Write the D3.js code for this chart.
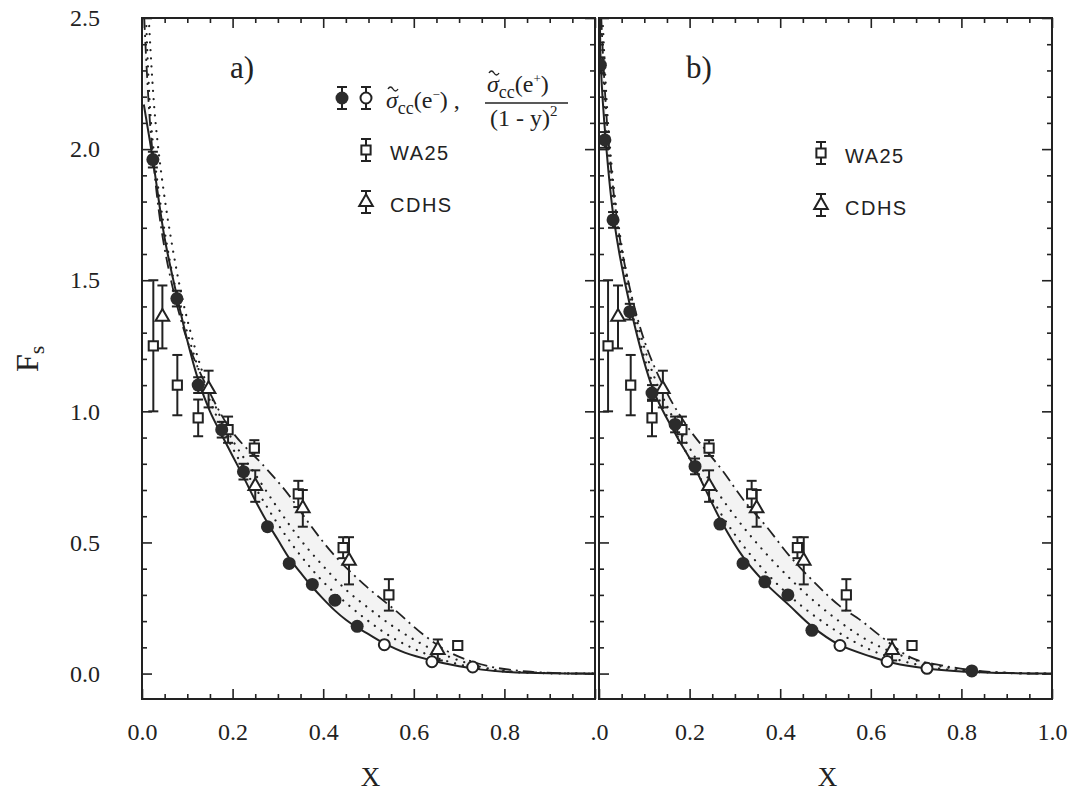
<!DOCTYPE html>
<html lang="en">
<head>
  <meta charset="UTF-8">
  <title>Fs vs x</title>
  <script src="https://cdn.jsdelivr.net/npm/d3@7"></script>
</head>
<body>
<style>
  * {
    padding: 0;
    margin: 0;
  }
  body { background: #fff; }
  svg text { font-family: "Liberation Serif", "DejaVu Serif", serif; fill: #222; }
  .leg { font-family: "Liberation Sans", "DejaVu Sans", sans-serif !important; letter-spacing: 1.5px; }
</style>

<div id="app"></div>

<script>
  // ticks
  const xMajor = [0, 0.2, 0.4, 0.6, 0.8, 1.0];
  const xMinor = [0.05, 0.1, 0.15, 0.25, 0.3, 0.35, 0.45, 0.5, 0.55, 0.65, 0.7, 0.75, 0.85, 0.9, 0.95];
  const xLabelsA = ["0.0", "0.2", "0.4", "0.6", "0.8", ""];
  const xLabelsB = [".0", "0.2", "0.4", "0.6", "0.8", "1.0"];
  const yMajor = [0, 0.5, 1.0, 1.5, 2.0, 2.5];
  const yMinor = [0.1, 0.2, 0.3, 0.4, 0.6, 0.7, 0.8, 0.9, 1.1, 1.2, 1.3, 1.4, 1.6, 1.7, 1.8, 1.9, 2.1, 2.2, 2.3, 2.4];
  const yLabels = ["0.0", "0.5", "1.0", "1.5", "2.0", "2.5"];

  // panel a: data points
  const a_em_x = [0.024, 0.077, 0.124, 0.176, 0.224, 0.277, 0.325, 0.376, 0.426, 0.475];
  const a_em_y = [1.96, 1.43, 1.10, 0.93, 0.77, 0.56, 0.42, 0.34, 0.28, 0.18];
  const a_em_e = [0.03, 0.03, 0.03, 0.03, 0.03, 0.025, 0.025, 0.02, 0.02, 0.02];
  const a_ep_x = [0.535, 0.64, 0.73];
  const a_ep_y = [0.11, 0.045, 0.025];
  const a_ep_e = [0.02, 0.02, 0.015];
  const a_wa_x = [0.025, 0.078, 0.124, 0.19, 0.248, 0.345, 0.444, 0.545, 0.697];
  const a_wa_y = [1.25, 1.10, 0.975, 0.93, 0.86, 0.685, 0.48, 0.30, 0.107];
  const a_wa_e = [0.25, 0.115, 0.07, 0.05, 0.03, 0.05, 0.04, 0.06, 0.015];
  const a_cd_x = [0.045, 0.147, 0.25, 0.355, 0.457, 0.653];
  const a_cd_y = [1.36, 1.085, 0.715, 0.63, 0.43, 0.09];
  const a_cd_e = [0.12, 0.07, 0.06, 0.07, 0.09, 0.04];

  // panel a: curves
  const a_solid_x = [0.004, 0.024, 0.05, 0.077, 0.1, 0.124, 0.15, 0.176, 0.2, 0.224, 0.25, 0.277, 0.3, 0.325, 0.35, 0.376, 0.4, 0.426, 0.45, 0.475, 0.5, 0.535, 0.58, 0.64, 0.7, 0.75, 0.8, 0.9, 1.0];
  const a_solid_y = [2.17, 1.96, 1.66, 1.44, 1.27, 1.12, 1.0, 0.91, 0.83, 0.75, 0.66, 0.575, 0.51, 0.44, 0.385, 0.33, 0.285, 0.24, 0.205, 0.175, 0.15, 0.115, 0.08, 0.05, 0.028, 0.015, 0.007, 0.001, 0];
  const a_dotU_x = [0.015, 0.03, 0.06, 0.1, 0.15, 0.2, 0.25, 0.3, 0.35, 0.4, 0.45, 0.5, 0.55, 0.6, 0.65, 0.7, 0.75, 0.8, 0.9, 1.0];
  const a_dotU_y = [2.5, 2.1, 1.7, 1.35, 1.07, 0.89, 0.76, 0.63, 0.51, 0.41, 0.32, 0.25, 0.185, 0.13, 0.085, 0.05, 0.025, 0.01, 0.002, 0];
  const a_dotL_x = [0.009, 0.02, 0.04, 0.07, 0.1, 0.15, 0.2, 0.25, 0.3, 0.35, 0.4, 0.45, 0.5, 0.55, 0.6, 0.65, 0.7, 0.75, 0.8, 0.9, 1.0];
  const a_dotL_y = [2.5, 2.1, 1.8, 1.5, 1.3, 1.04, 0.86, 0.71, 0.57, 0.45, 0.35, 0.27, 0.2, 0.14, 0.095, 0.06, 0.035, 0.018, 0.008, 0.001, 0];
  const a_dd_x = [0.005, 0.02, 0.05, 0.1, 0.15, 0.2, 0.27, 0.32, 0.37, 0.42, 0.49, 0.56, 0.62, 0.68, 0.76, 0.85, 0.95, 1.0];
  const a_dd_y = [2.5, 2.05, 1.62, 1.27, 1.07, 0.92, 0.79, 0.69, 0.57, 0.46, 0.34, 0.24, 0.15, 0.08, 0.03, 0.008, 0, 0];

  // panel b: data points
  const b_em_x = [0.003, 0.013, 0.031, 0.068, 0.117, 0.168, 0.212, 0.267, 0.318, 0.366, 0.417, 0.47, 0.823];
  const b_em_y = [2.32, 2.035, 1.73, 1.38, 1.07, 0.95, 0.79, 0.57, 0.42, 0.35, 0.30, 0.165, 0.01];
  const b_em_e = [0.03, 0.03, 0.03, 0.03, 0.03, 0.03, 0.03, 0.025, 0.025, 0.02, 0.02, 0.02, 0.01];
  const b_ep_x = [0.532, 0.636, 0.724];
  const b_ep_y = [0.107, 0.046, 0.02];
  const b_ep_e = [0.02, 0.02, 0.015];
  const b_wa_x = [0.02, 0.07, 0.117, 0.183, 0.243, 0.337, 0.438, 0.546, 0.691];
  const b_wa_y = [1.25, 1.10, 0.975, 0.93, 0.86, 0.685, 0.48, 0.30, 0.107];
  const b_wa_e = [0.25, 0.115, 0.07, 0.05, 0.03, 0.05, 0.04, 0.06, 0.015];
  const b_cd_x = [0.042, 0.141, 0.243, 0.348, 0.452, 0.647];
  const b_cd_y = [1.36, 1.085, 0.715, 0.63, 0.43, 0.09];
  const b_cd_e = [0.12, 0.07, 0.06, 0.07, 0.09, 0.04];

  // panel b: curves
  const b_solid_x = [0.002, 0.004, 0.015, 0.033, 0.07, 0.12, 0.17, 0.21, 0.27, 0.32, 0.37, 0.42, 0.47, 0.53, 0.6, 0.65, 0.72, 0.8, 0.9, 1.0];
  const b_solid_y = [2.5, 2.32, 2.03, 1.73, 1.39, 1.08, 0.91, 0.79, 0.58, 0.44, 0.34, 0.26, 0.18, 0.11, 0.065, 0.04, 0.02, 0.008, 0.002, 0];
  const b_dotU_x = [0.008, 0.02, 0.04, 0.07, 0.12, 0.2, 0.3, 0.4, 0.5, 0.6, 0.7, 0.8, 0.9, 1.0];
  const b_dotU_y = [2.5, 2.1, 1.75, 1.45, 1.14, 0.86, 0.6, 0.4, 0.24, 0.12, 0.05, 0.015, 0.003, 0];
  const b_dotL_x = [0.005, 0.015, 0.035, 0.07, 0.12, 0.2, 0.3, 0.4, 0.5, 0.6, 0.7, 0.8, 0.9, 1.0];
  const b_dotL_y = [2.5, 2.1, 1.75, 1.42, 1.1, 0.82, 0.53, 0.33, 0.19, 0.09, 0.035, 0.01, 0.002, 0];
  const b_dd_x = [0.005, 0.02, 0.05, 0.1, 0.15, 0.2, 0.27, 0.32, 0.37, 0.42, 0.48, 0.53, 0.58, 0.62, 0.69, 0.76, 0.85, 0.95, 1.0];
  const b_dd_y = [2.5, 2.05, 1.62, 1.27, 1.07, 0.93, 0.78, 0.66, 0.56, 0.45, 0.34, 0.26, 0.2, 0.145, 0.06, 0.03, 0.008, 0, 0];

  const W = 1081, H = 794;
  const yTop = 18, yBot = 699;
  const ink = "#222";

  const svg = d3.select("#app").append("svg").attr("width", W).attr("height", H);

  const y = d3.scaleLinear().domain([-0.097, 2.5]).range([yBot, yTop]);
  const xA = d3.scaleLinear().domain([0, 1]).range([142, 595]);
  const xB = d3.scaleLinear().domain([0, 1]).range([599, 1052]);

  function pts(xs, ys, es) {
    return xs.map((v, i) => ({x: v, y: ys[i], e: es ? es[i] : 0}));
  }

  function errBar(g, cx, top, bot) {
    g.append("line").attr("x1", cx).attr("x2", cx).attr("y1", top).attr("y2", bot)
      .attr("stroke", ink).attr("stroke-width", 2);
    [top, bot].forEach(v => g.append("line").attr("x1", cx - 5).attr("x2", cx + 5)
      .attr("y1", v).attr("y2", v).attr("stroke", ink).attr("stroke-width", 2));
  }

  function marker(g, kind, cx, cy) {
    if (kind === "em") {
      g.append("circle").attr("cx", cx).attr("cy", cy).attr("r", 6.5).attr("fill", "#2b2b2b");
    } else if (kind === "ep") {
      g.append("circle").attr("cx", cx).attr("cy", cy).attr("r", 5.5)
        .attr("fill", "#fff").attr("stroke", ink).attr("stroke-width", 2);
    } else if (kind === "wa") {
      g.append("path").attr("d", d3.symbol(d3.symbolSquare, 85)()).attr("transform", `translate(${cx},${cy})`)
        .attr("fill", "#fff").attr("stroke", ink).attr("stroke-width", 2);
    } else {
      g.append("path").attr("d", d3.symbol(d3.symbolTriangle, 80)()).attr("transform", `translate(${cx},${cy})`)
        .attr("fill", "#fff").attr("stroke", ink).attr("stroke-width", 2);
    }
  }

  function drawPanel(x, name, P, xLabels, showYLabels) {
    const g = svg.append("g");
    const clipId = "clip-" + name;
    svg.append("clipPath").attr("id", clipId).append("rect")
      .attr("x", x(0)).attr("y", yTop).attr("width", x(1) - x(0)).attr("height", yBot - yTop);

    const line = d3.line().x(d => x(d[0])).y(d => y(d[1])).curve(d3.curveCatmullRom.alpha(0.5));
    const plot = g.append("g").attr("clip-path", `url(#${clipId})`);

    // light band between solid and dash-dot
    const p1 = line(d3.zip(P.dd[0], P.dd[1]));
    const p2 = line(d3.zip(P.solid[0], P.solid[1]).reverse());
    plot.append("path").attr("d", p1 + "L" + p2.slice(1) + "Z").attr("fill", "#f3f3f3");

    plot.append("path").attr("d", line(d3.zip(P.dotU[0], P.dotU[1]))).attr("fill", "none")
      .attr("stroke", ink).attr("stroke-width", 2.2).attr("stroke-linecap", "round").attr("stroke-dasharray", "0.1,8");
    plot.append("path").attr("d", line(d3.zip(P.dotL[0], P.dotL[1]))).attr("fill", "none")
      .attr("stroke", ink).attr("stroke-width", 2.2).attr("stroke-linecap", "round").attr("stroke-dasharray", "0.1,8");
    plot.append("path").attr("d", p1).attr("fill", "none")
      .attr("stroke", ink).attr("stroke-width", 1.8).attr("stroke-dasharray", "12,5,2,5");
    plot.append("path").attr("d", line(d3.zip(P.solid[0], P.solid[1]))).attr("fill", "none")
      .attr("stroke", ink).attr("stroke-width", 2);

    // points
    const mk = plot.append("g");
    P.points.forEach(s => {
      s.data.forEach(d => {
        if (d.e > 0.025) errBar(mk, x(d.x), y(d.y + d.e), y(d.y - d.e));
        marker(mk, s.kind, x(d.x), y(d.y));
      });
    });

    // frame
    g.append("rect").attr("x", x(0)).attr("y", yTop).attr("width", x(1) - x(0)).attr("height", yBot - yTop)
      .attr("fill", "none").attr("stroke", ink).attr("stroke-width", 2);

    const style = sel => {
      sel.select(".domain").remove();
      sel.selectAll("line").attr("stroke", ink).attr("stroke-width", 1.6);
      sel.selectAll("text").attr("font-size", 24).attr("fill", ink)
        .attr("font-family", '"Liberation Serif", serif');
    };

    g.append("g").attr("transform", `translate(0,${yBot})`)
      .call(d3.axisBottom(x).tickValues(xMajor).tickSize(-10).tickPadding(24).tickFormat((d, i) => xLabels[i]))
      .call(style);
    g.append("g").attr("transform", `translate(0,${yBot})`)
      .call(d3.axisBottom(x).tickValues(xMinor).tickSize(-5).tickFormat(""))
      .call(style);
    g.append("g").attr("transform", `translate(0,${yTop})`)
      .call(d3.axisTop(x).tickValues(xMajor).tickSize(-10).tickFormat(""))
      .call(style);
    g.append("g").attr("transform", `translate(0,${yTop})`)
      .call(d3.axisTop(x).tickValues(xMinor).tickSize(-5).tickFormat(""))
      .call(style);

    g.append("g").attr("transform", `translate(${x(0)},0)`)
      .call(d3.axisLeft(y).tickValues(yMajor).tickSize(-10).tickPadding(42)
        .tickFormat((d, i) => showYLabels ? yLabels[i] : ""))
      .call(style);
    g.append("g").attr("transform", `translate(${x(0)},0)`)
      .call(d3.axisLeft(y).tickValues(yMinor).tickSize(-5).tickFormat(""))
      .call(style);
    g.append("g").attr("transform", `translate(${x(1)},0)`)
      .call(d3.axisRight(y).tickValues(yMajor).tickSize(-10).tickFormat(""))
      .call(style);
    g.append("g").attr("transform", `translate(${x(1)},0)`)
      .call(d3.axisRight(y).tickValues(yMinor).tickSize(-5).tickFormat(""))
      .call(style);

    // axis title
    svg.append("text").attr("x", (x(0) + x(1)) / 2 + 2).attr("y", 786).attr("text-anchor", "middle")
      .attr("font-size", 27).text("X");
    return g;
  }

  drawPanel(xA, "a", {
    solid: [a_solid_x, a_solid_y], dotU: [a_dotU_x, a_dotU_y], dotL: [a_dotL_x, a_dotL_y], dd: [a_dd_x, a_dd_y],
    points: [
      {kind: "wa", data: pts(a_wa_x, a_wa_y, a_wa_e)},
      {kind: "cd", data: pts(a_cd_x, a_cd_y, a_cd_e)},
      {kind: "ep", data: pts(a_ep_x, a_ep_y, a_ep_e)},
      {kind: "em", data: pts(a_em_x, a_em_y, a_em_e)}
    ]
  }, xLabelsA, true);

  drawPanel(xB, "b", {
    solid: [b_solid_x, b_solid_y], dotU: [b_dotU_x, b_dotU_y], dotL: [b_dotL_x, b_dotL_y], dd: [b_dd_x, b_dd_y],
    points: [
      {kind: "wa", data: pts(b_wa_x, b_wa_y, b_wa_e)},
      {kind: "cd", data: pts(b_cd_x, b_cd_y, b_cd_e)},
      {kind: "ep", data: pts(b_ep_x, b_ep_y, b_ep_e)},
      {kind: "em", data: pts(b_em_x, b_em_y, b_em_e)}
    ]
  }, xLabelsB, false);

  // y title F_s (rotated)
  const ft = svg.append("text").attr("transform", "translate(38,372) rotate(-90)").attr("font-size", 32);
  ft.append("tspan").text("F");
  ft.append("tspan").attr("font-size", 22).attr("dy", 6).text("s");

  // panel labels
  svg.append("text").attr("x", 230).attr("y", 78).attr("font-size", 31).text("a)");
  svg.append("text").attr("x", 686).attr("y", 78).attr("font-size", 31).text("b)");

  // legend markers
  function legMark(kind, cx, cy) {
    const g = svg.append("g");
    errBar(g, cx, cy - 11, cy + 11);
    marker(g, kind, cx, cy);
  }
  legMark("em", 342, 98);
  legMark("ep", 366, 98);
  legMark("wa", 366, 150);
  legMark("cd", 366, 202);
  legMark("wa", 821, 153);
  legMark("cd", 821, 205);

  // sigma-tilde cc (e sign): tilde drawn as a small wave above the sigma
  function sigmaCC(x0, y0, sign, tail) {
    svg.append("path").attr("d", `M${x0 + 2},${y0 - 19} q2.5,-4 5,0 t5,0`)
      .attr("fill", "none").attr("stroke", ink).attr("stroke-width", 1.4);
    const t = svg.append("text").attr("x", x0).attr("y", y0).attr("font-size", 24);
    t.append("tspan").attr("font-style", "italic").text("σ");
    t.append("tspan").attr("font-size", 18).attr("dy", 6).text("cc");
    t.append("tspan").attr("dy", -6).text("(e");
    t.append("tspan").attr("font-size", 13).attr("dy", -9).text(sign);
    t.append("tspan").attr("dy", 9).text(tail);
  }
  sigmaCC(386, 108, "−", ") ,");
  sigmaCC(487, 92, "+", ")");
  svg.append("line").attr("x1", 485).attr("x2", 568).attr("y1", 103).attr("y2", 103)
    .attr("stroke", ink).attr("stroke-width", 1.5);
  const t3 = svg.append("text").attr("x", 490).attr("y", 126).attr("font-size", 24);
  t3.append("tspan").text("(1 - y)");
  t3.append("tspan").attr("font-size", 15).attr("dy", -10).text("2");

  svg.append("text").attr("class", "leg").attr("x", 390).attr("y", 160).attr("font-size", 20).text("WA25");
  svg.append("text").attr("class", "leg").attr("x", 390).attr("y", 212).attr("font-size", 20).text("CDHS");
  svg.append("text").attr("class", "leg").attr("x", 845).attr("y", 163).attr("font-size", 20).text("WA25");
  svg.append("text").attr("class", "leg").attr("x", 845).attr("y", 215).attr("font-size", 20).text("CDHS");
</script>
</body>
</html>
